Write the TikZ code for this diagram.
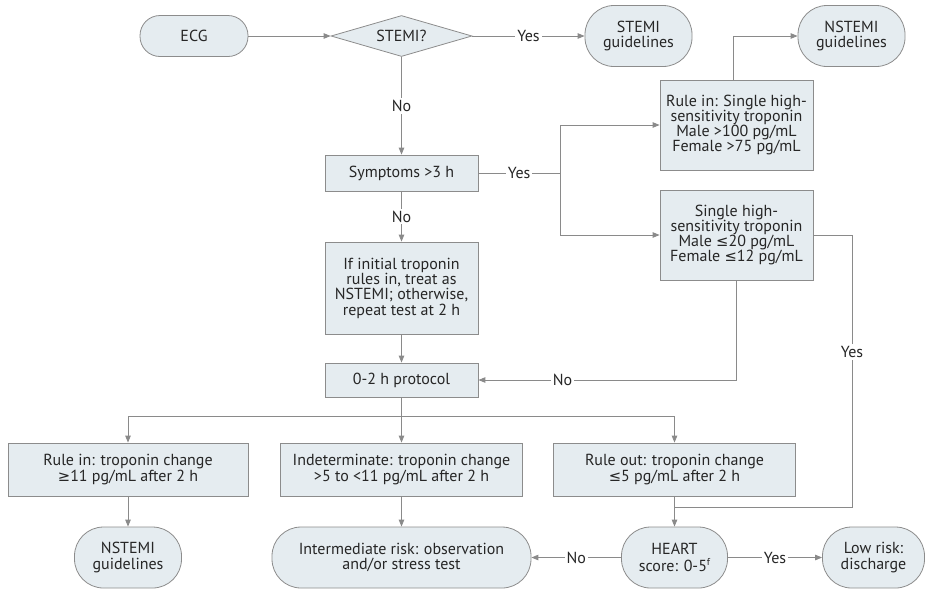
\documentclass[tikz,border=0pt]{standalone}
\usepackage{fontspec}
\setmainfont{PT Sans}
\newfontfamily\symf{DejaVu Sans}[Scale=0.92]
\newcommand\lte{{\symf ≤}}
\newcommand\gte{{\symf ≥}}
\usetikzlibrary{shapes.geometric,arrows.meta}
\definecolor{boxfill}{HTML}{E5ECF0}
\definecolor{boxline}{HTML}{8C8C8C}
\definecolor{txt}{HTML}{262626}
\definecolor{conn}{HTML}{8A8A8A}
\begin{document}
\begin{tikzpicture}[x=1pt,y=-1pt,
  every node/.style={font=\fontsize{16}{15.3}\selectfont, text=txt},
  box/.style={draw=boxline, fill=boxfill, line width=0.8pt, align=center, inner sep=0pt},
  term/.style={box, rounded corners=#1},
  rbox/.style={box},
  dia/.style={box, diamond, aspect=3.4},
  line/.style={draw=conn, line width=0.9pt},
  arr/.style={line, -{Triangle[length=7pt,width=5.5pt]}},
  lbl/.style={fill=white, inner sep=2pt}
]
\useasboundingbox (0,0) rectangle (925,590);
% top row
\node[term=20, minimum width=108, minimum height=41] (ecg) at (194,36) {ECG};
\node[dia, minimum width=141, minimum height=41] (stemi) at (401.5,36) {STEMI?};
\node[term=29, minimum width=107, minimum height=61] (stemig) at (638.5,36) {STEMI\\guidelines};
\node[term=29, minimum width=107, minimum height=61] (nstemig) at (851.5,36) {NSTEMI\\guidelines};
% right boxes
\node[rbox, minimum width=153, minimum height=90] (rulein) at (736.5,125) {Rule in: Single high-\\sensitivity troponin\\Male >100 pg/mL\\Female >75 pg/mL};
\node[rbox, minimum width=153, minimum height=90] (single) at (736.5,235) {Single high-\\sensitivity troponin\\Male \lte20 pg/mL\\Female \lte12 pg/mL};
% center column
\node[rbox, minimum width=153, minimum height=36] (sym) at (401.5,173) {Symptoms >3 h};
\node[rbox, minimum width=153, minimum height=92] (ifb) at (401.5,288) {If initial troponin\\rules in, treat as\\NSTEMI; otherwise,\\repeat test at 2 h};
\node[rbox, minimum width=153, minimum height=34] (proto) at (401.5,380) {0-2 h protocol};
% third row
\node[rbox, minimum width=240, minimum height=53] (rin) at (128,469.5) {Rule in: troponin change\\\gte11 pg/mL after 2 h};
\node[rbox, minimum width=242, minimum height=53] (indet) at (401.5,469.5) {Indeterminate: troponin change\\>5 to <11 pg/mL after 2 h};
\node[rbox, minimum width=242, minimum height=53] (rout) at (674.5,469.5) {Rule out: troponin change\\\lte5 pg/mL after 2 h};
% bottom row
\node[term=29, minimum width=107, minimum height=61] (nst2) at (128,557.5) {NSTEMI\\guidelines};
\node[term=29, minimum width=259, minimum height=61] (inter) at (401.5,557.5) {Intermediate risk: observation\\and/or stress test};
\node[term=29, minimum width=106, minimum height=61] (heart) at (674.5,557.5) {HEART\\[2pt]score: 0-5\raisebox{0.8ex}{\fontsize{10}{10}\selectfont f}};
\node[term=29, minimum width=102, minimum height=61] (low) at (873.5,557.5) {Low risk:\\discharge};
% coordinates
\coordinate (br) at (560,173);
\coordinate (split) at (401.5,416);
\coordinate (yc) at (852,507);
\coordinate (join) at (674.5,507);
% connectors
\draw[arr] (ecg) -- (stemi);
\draw[arr] (stemi.east) -- node[lbl]{Yes} (stemig.west);
\draw[arr] (stemi.south) -- node[lbl]{No} (sym.north);
\draw[line] (sym.east) -- node[lbl]{Yes} (br);
\draw[arr] (br) |- (rulein.west);
\draw[arr] (br) |- (single.west);
\draw[arr] ([xshift=-3pt]rulein.north) |- (nstemig.west);
\draw[arr] (sym.south) -- node[lbl]{No} (ifb.north);
\draw[arr] (ifb.south) -- (proto.north);
\draw[arr] (single.south) |- node[lbl, pos=0.837]{No} (proto.east);
\draw[line] (single.east) -| node[lbl, pos=0.715]{Yes} (yc) -- (join);
\draw[arr] (proto.south) -- (indet.north);
\draw[arr] (split) -| (rin.north);
\draw[arr] (split) -| (rout.north);
\draw[arr] (rin.south) -- (nst2.north);
\draw[arr] (indet.south) -- (inter.north);
\draw[arr] (rout.south) -- (heart.north);
\draw[arr] (heart.west) -- node[lbl]{No} (inter.east);
\draw[arr] (heart.east) -- node[lbl]{Yes} (low.west);
\end{tikzpicture}
\end{document}
